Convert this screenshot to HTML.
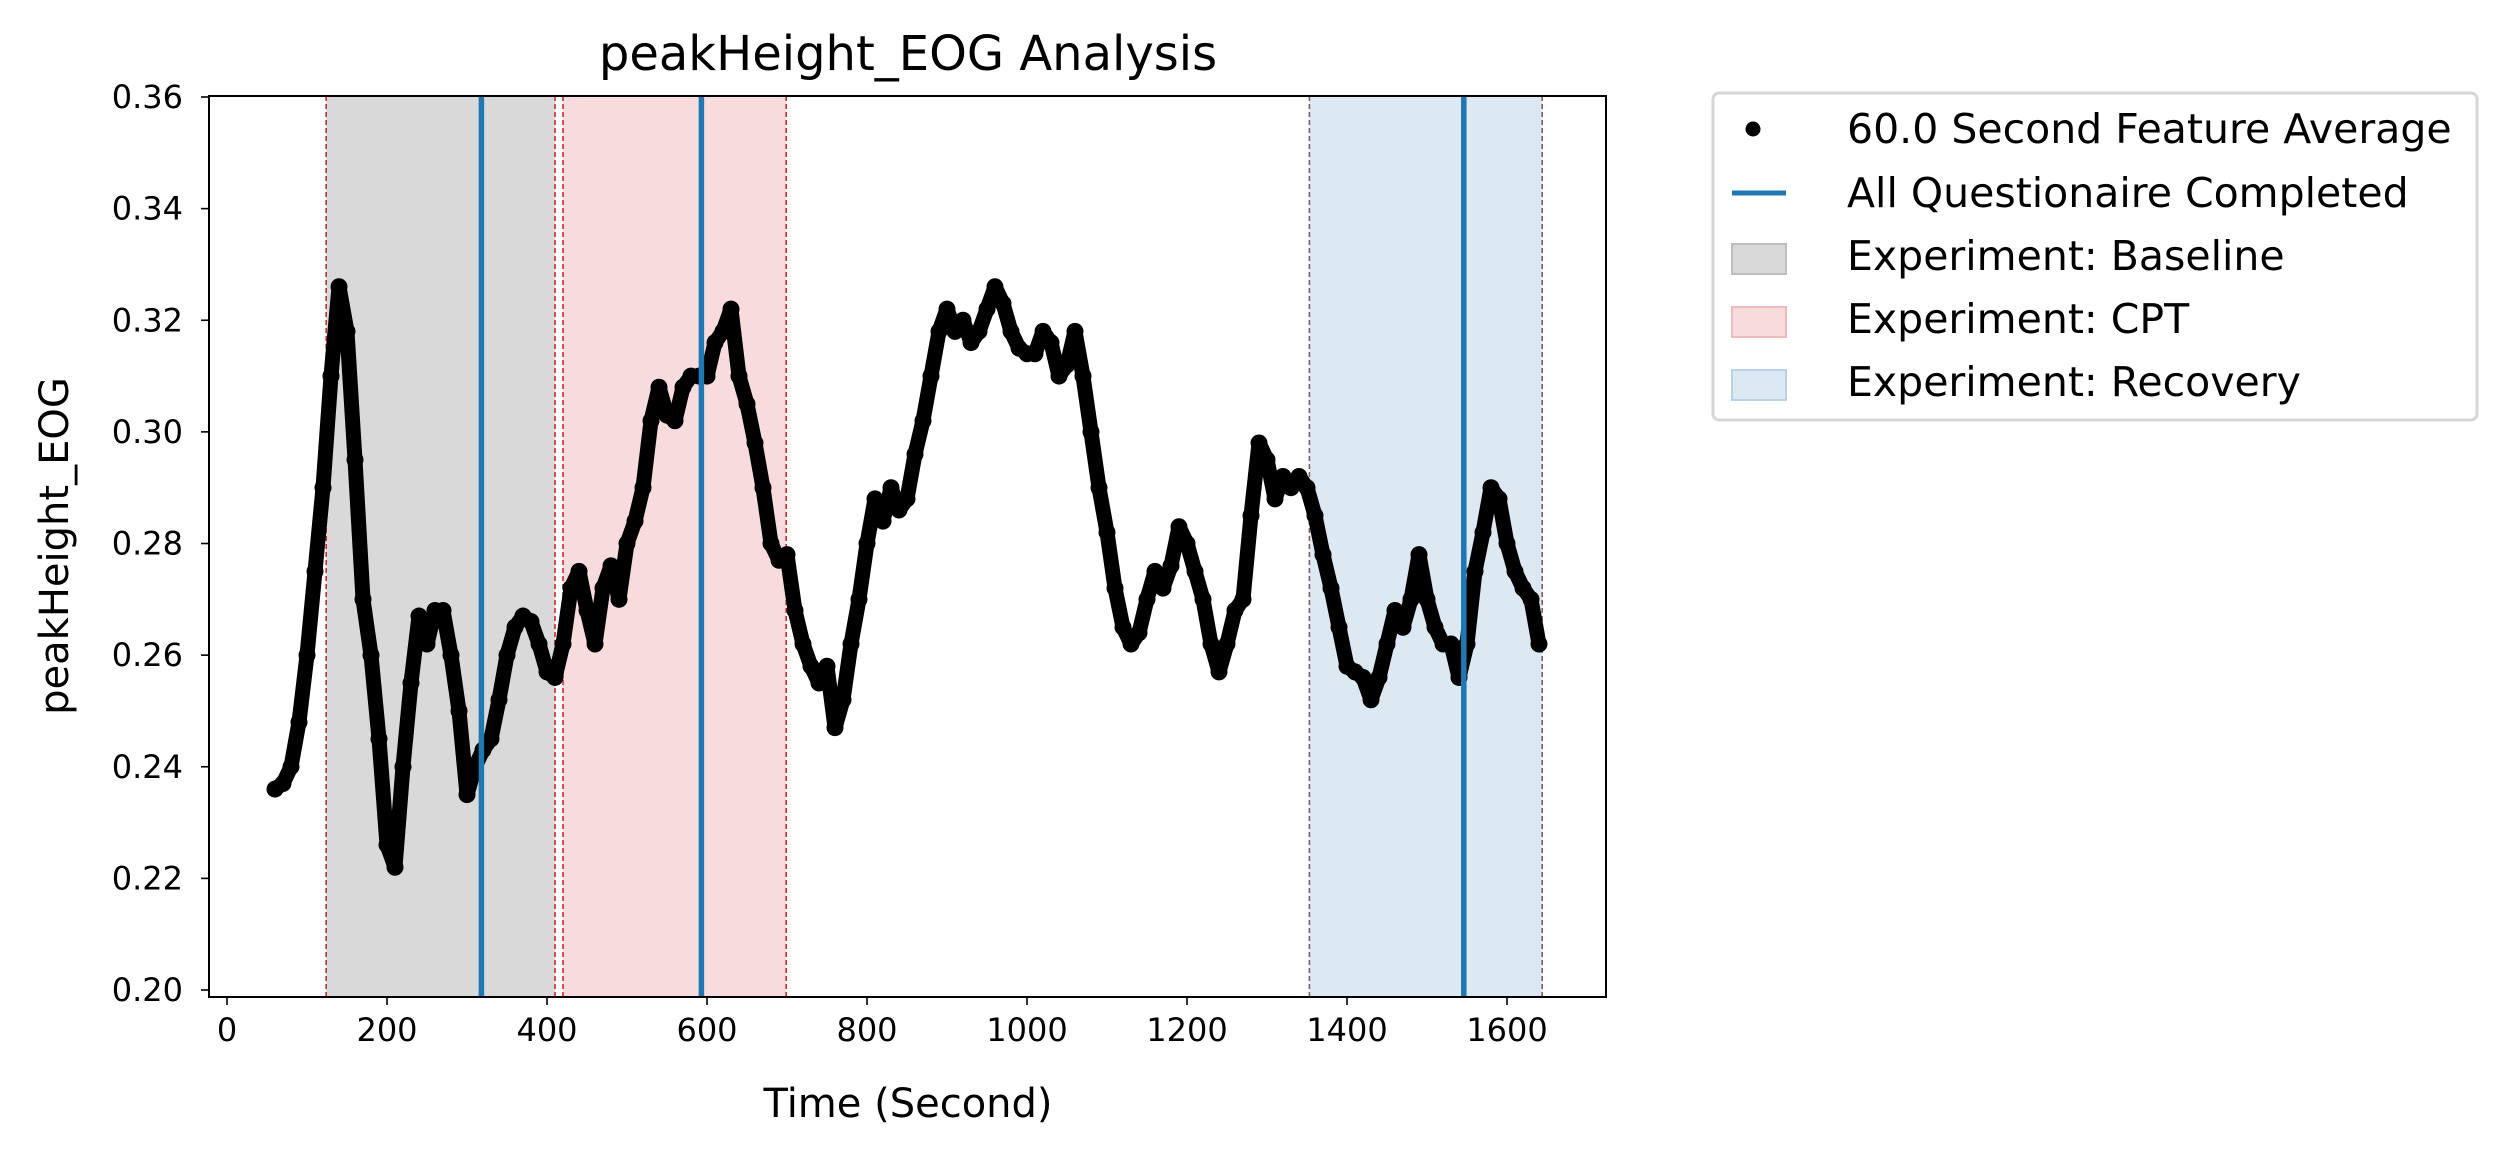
<!DOCTYPE html>
<html><head><meta charset="utf-8"><style>
html,body{margin:0;padding:0;background:#fff;}
svg{display:block;font-family:"DejaVu Sans","Liberation Sans",sans-serif;}
</style></head><body>
<svg id="chart" width="2506" height="1158" viewBox="0 0 2506 1158" xmlns="http://www.w3.org/2000/svg">
<g id="spans"></g><g id="marks"></g><g id="vlines"></g><g id="axes"></g>
<text x="908" y="70" font-size="48" text-anchor="middle">peakHeight_EOG Analysis</text>
<text x="908" y="1117" font-size="40" text-anchor="middle">Time (Second)</text>
<text transform="translate(68,546) rotate(-90)" font-size="40" text-anchor="middle">peakHeight_EOG</text>
<g>
<rect x="1713" y="93" width="764" height="327" rx="6" fill="#fff" stroke="#d6d6d6" stroke-width="3"/>
<circle cx="1753" cy="129" r="7.5" fill="#000"/>
<text x="1847" y="143" font-size="41">60.0 Second Feature Average</text>
<line x1="1732" y1="193" x2="1786" y2="193" stroke="#1f77b4" stroke-width="5"/>
<text x="1847" y="207" font-size="41">All Questionaire Completed</text>
<rect x="1732" y="244" width="54" height="30" fill="#d9d9d9" stroke="#bdbdbd" stroke-width="2"/>
<text x="1847" y="270" font-size="41">Experiment: Baseline</text>
<rect x="1732" y="307" width="54" height="30" fill="#f8dcdd" stroke="#f0b9bb" stroke-width="2"/>
<text x="1847" y="333" font-size="41">Experiment: CPT</text>
<rect x="1732" y="370" width="54" height="30" fill="#dce8f2" stroke="#b9d2e8" stroke-width="2"/>
<text x="1847" y="396" font-size="41">Experiment: Recovery</text>
</g>
</svg>
<script>
const times = [];
for (let t = 60; t <= 1640; t += 10) times.push(t);
const values = [0.236,0.237,0.240,0.248,0.260,0.275,0.290,0.310,0.326,0.318,0.295,0.270,0.260,0.245,0.226,0.222,0.240,0.255,0.267,0.262,0.268,0.268,0.260,0.250,0.235,0.240,0.243,0.245,0.252,0.260,0.265,0.267,0.266,0.262,0.257,0.256,0.262,0.272,0.275,0.268,0.262,0.272,0.276,0.270,0.280,0.284,0.290,0.302,0.308,0.303,0.302,0.308,0.310,0.310,0.310,0.316,0.318,0.322,0.310,0.305,0.298,0.290,0.280,0.277,0.278,0.268,0.262,0.258,0.255,0.258,0.247,0.252,0.262,0.270,0.280,0.288,0.284,0.290,0.286,0.288,0.296,0.302,0.310,0.318,0.322,0.318,0.320,0.316,0.318,0.322,0.326,0.323,0.318,0.315,0.314,0.314,0.318,0.316,0.310,0.312,0.318,0.310,0.300,0.290,0.282,0.272,0.265,0.262,0.264,0.270,0.275,0.272,0.276,0.283,0.280,0.275,0.270,0.262,0.257,0.262,0.268,0.270,0.285,0.298,0.295,0.288,0.292,0.290,0.292,0.290,0.285,0.278,0.272,0.265,0.258,0.257,0.256,0.252,0.256,0.262,0.268,0.265,0.270,0.278,0.270,0.265,0.262,0.262,0.256,0.262,0.275,0.282,0.290,0.288,0.280,0.275,0.272,0.270,0.262];
const spanStarts = [124, 420, 1353];
const spanEnds = [410, 699, 1644];
const spanNames = ['baseline','cpt','recovery'];
const questionnaireTimes = [318, 593, 1546];
const xTicks = [0,200,400,600,800,1000,1200,1400,1600];
const yTicks = [0.20,0.22,0.24,0.26,0.28,0.30,0.32,0.34,0.36];

const L=209,R=1606,T=96,B=997;
const X=t=>227+t*0.8;
const Y=v=>990-(v-0.20)/0.16*893;
const NS='http://www.w3.org/2000/svg';
function mk(tag,attrs,parent){const e=document.createElementNS(NS,tag);for(const k in attrs)e.setAttribute(k,attrs[k]);document.getElementById(parent).appendChild(e);return e;}

const fills=['#d9d9d9','#f8dcdd','#dce8f2'];
const edge=['#d62728','#d62728','#8c5a5a'];
spanStarts.forEach((s,i)=>{
  const r=mk('rect',{x:X(s),y:T,width:X(spanEnds[i])-X(s),height:B-T,fill:fills[i]},'spans');
  
  
  [s,spanEnds[i]].forEach(t=>{
    const l=mk('line',{x1:X(t),x2:X(t),y1:T,y2:B,stroke:edge[i],'stroke-width':1.6,'stroke-dasharray':'5,3'},'spans');
    
    
  });
});
let d='';
times.forEach((t,i)=>{d+=(i?'L':'M')+X(t)+','+Y(values[i]);});
const trace=mk('path',{d:d,fill:'none',stroke:'#000','stroke-width':15,'stroke-linejoin':'round','stroke-linecap':'round'},'marks');


times.forEach((t,i)=>{
  const c=mk('circle',{cx:X(t),cy:Y(values[i]),r:8.5,fill:'#000'},'marks');
  
  
});
questionnaireTimes.forEach(t=>{
  const l=mk('line',{x1:X(t),x2:X(t),y1:T,y2:B,stroke:'#1f77b4','stroke-width':5.5},'vlines');
  
  
});
const f=mk('rect',{x:L,y:T,width:R-L,height:B-T,fill:'none',stroke:'#000','stroke-width':2},'axes');


xTicks.forEach(t=>{
  mk('line',{x1:X(t),x2:X(t),y1:B,y2:B+8,stroke:'#000','stroke-width':1.6},'axes');
  const tx=mk('text',{x:X(t),y:B+44,'font-size':32,'text-anchor':'middle'},'axes');
  tx.textContent=t;
  
  
});
yTicks.forEach(v=>{
  mk('line',{x1:L-8,x2:L,y1:Y(v),y2:Y(v),stroke:'#000','stroke-width':1.6},'axes');
  const tx=mk('text',{x:L-26,y:Y(v)+11,'font-size':32,'text-anchor':'end'},'axes');
  tx.textContent=v.toFixed(2);
  
  
});
</script>
</body></html>
